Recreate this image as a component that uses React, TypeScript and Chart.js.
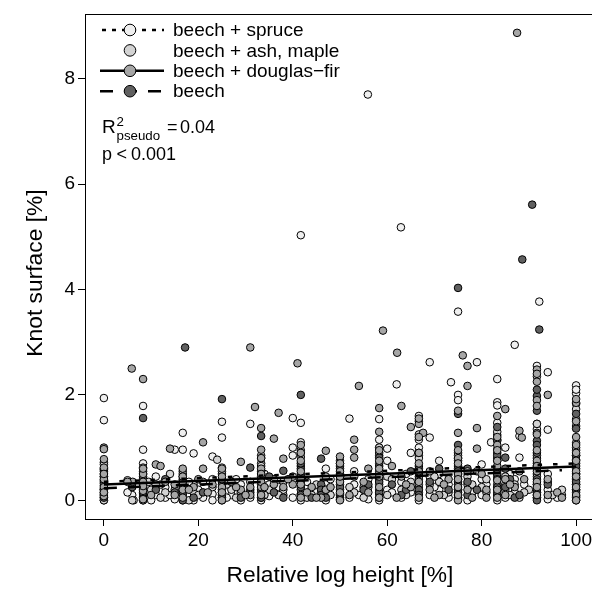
import { useEffect, useRef } from 'react';
import { Chart, registerables } from 'chart.js';

Chart.register(...registerables);

const FONT = "'Liberation Sans', Arial, Helvetica, sans-serif";

// ---- axis ticks / ranges ----
const xTicks = [0, 20, 40, 60, 80, 100];
const yTicks = [0, 2, 4, 6, 8];
const xRange = [-4, 104];
const yRange = [-0.355, 9.22];

// ---- legend ----
const groupLabels = ['beech + spruce', 'beech + ash, maple', 'beech + douglas\u2212fir', 'beech'];
const groupFill = ['#efefef', '#d3d3d3', '#a6a6a6', '#606060'];

// ---- fitted lines (x range, y at ends) ----
const spruceFitX = [0, 100];
const spruceFitY = [0.35, 0.7];
const douglasFitX = [0, 100];
const douglasFitY = [0.3, 0.64];
const beechFitX = [0, 97];
const beechFitY = [0.23, 0.57];

// ---- points [relative log height %, knot surface %] ----
const sprucePts: number[][] = [
  [0, 1.94], [0, 1.52], [0, 0.72], [0, 0.6], [0, 0.45], [0, 0.28], [0, 0.15], [0, 0.05], [0, 0.0],
  [8.3, 1.79], [8.3, 0.96], [8.3, 0.55], [8.3, 0.2], [8.3, 0.08], [8.3, 0.0], [6, 0.1], [6.3, 0.0],
  [11, 0.45], [11, 0.1], [13, 0.25], [13, 0.05], [15, 0.96], [15, 0.02], [16.7, 1.28], [16.7, 0.96], [16.7, 0.15],
  [19, 0.89], [19, 0.3], [19, 0.0], [21, 0.05], [23, 0.83], [23, 0.4], [23, 0.12], [23, 0.0],
  [25, 1.49], [25, 1.19], [25, 0.5], [25, 0.2], [25, 0.05], [27, 0.25], [27, 0.1], [29, 0.3], [29, 0.0],
  [31, 1.45], [31, 0.35], [31, 0.05],
  [33.3, 0.7], [33.3, 0.4], [33.3, 0.15], [33.3, 0.0], [35, 0.3], [35, 0.08], [38, 0.35], [38, 0.1],
  [40, 1.56], [40, 1.0], [40, 0.85], [40, 0.05], [41.7, 5.03], [41.7, 1.47], [41.7, 0.82], [41.7, 0.5],
  [41.7, 0.3], [41.7, 0.12], [41.7, 0.0], [44, 0.2],
  [47, 0.6], [47, 0.3], [47, 0.1], [47, 0.0], [50, 0.45], [50, 0.2], [50, 0.05], [52, 1.55], [53, 0.55],
  [53, 0.3], [54, 0.1], [55.9, 7.7], [56, 0.4], [56, 0.02],
  [58.3, 1.54], [58.3, 1.15], [58.3, 0.7], [58.3, 0.5], [58.3, 0.3], [58.3, 0.12], [58.3, 0.0],
  [60, 0.98], [60, 0.75], [60, 0.2], [62, 2.2], [62.9, 5.18], [63, 0.35], [63, 0.05], [65, 0.9], [65, 0.15],
  [66.7, 1.6], [66.7, 1.0], [66.7, 0.6], [66.7, 0.25], [66.7, 0.0],
  [69, 2.62], [69, 1.19], [69, 0.45], [69, 0.1], [71, 0.75], [71, 0.5], [71, 0.2], [73, 0.3], [73, 0.05],
  [73.5, 2.24], [75, 3.58], [75, 2.0], [75, 1.9], [75, 0.9], [75, 0.6], [75, 0.35], [75, 0.1], [77, 0.3], [77, 0.0],
  [79, 2.62], [80, 0.68], [80, 0.4], [80, 0.1], [82, 1.1],
  [83.3, 2.3], [83.3, 1.86], [83.3, 1.8], [83.3, 1.47], [83.3, 1.24], [83.3, 0.75], [83.3, 0.45], [83.3, 0.2], [83.3, 0.0],
  [85, 1.0], [85, 0.3], [85, 0.05], [87, 2.95], [87, 0.4], [87, 0.15], [88, 1.22], [88, 0.81],
  [91.7, 2.55], [91.7, 1.35], [91.7, 0.65], [91.7, 0.3], [91.7, 0.05], [92.2, 3.77],
  [94, 2.43], [94, 1.34], [94, 0.5], [94, 0.2], [94, 0.02], [96, 0.05],
  [100, 2.18], [100, 2.03], [100, 1.41], [100, 0.95], [100, 0.7], [100, 0.5], [100, 0.3], [100, 0.15], [100, 0.0],
  [0, 0.38], [0, 0.22], [8.3, 0.38], [8.3, 0.7], [16.7, 0.3], [16.7, 0.55], [25, 0.38], [25, 0.62],
  [33.3, 0.85], [33.3, 0.25], [41.7, 0.95], [41.7, 1.1], [41.7, 0.4], [50, 0.6], [50, 0.75],
  [58.3, 0.85], [58.3, 1.0], [58.3, 0.4], [66.7, 1.5], [66.7, 1.15], [66.7, 0.85], [66.7, 0.4],
  [75, 0.8], [75, 0.5], [75, 0.2], [83.3, 1.15], [83.3, 0.97], [83.3, 0.55], [83.3, 0.1],
  [91.7, 2.35], [91.7, 1.45], [91.7, 0.85], [91.7, 0.5], [91.7, 0.15],
  [100, 2.1], [100, 1.83], [100, 1.54], [100, 1.09], [100, 0.77], [100, 0.42], [100, 0.08],
  [97, 0.1], [89, 0.3], [86, 0.5], [81, 0.3], [78, 0.15], [72, 0.4], [70, 0.25], [64, 0.5], [61, 0.15],
  [55, 0.25], [52, 0.05], [48, 0.4], [45, 0.15], [43, 0.35], [37, 0.25], [34, 0.5], [28, 0.4], [26, 0.05],
  [20, 0.2], [18, 0.35], [14, 0.1], [12, 0.3], [10, 0.0], [5, 0.15],
];

const ashPts: number[][] = [
  [0, 0.68], [0, 0.5], [0, 0.35], [0, 0.2], [0, 0.1],
  [8.3, 0.62], [8.3, 0.42], [8.3, 0.3], [8.3, 0.12], [5, 0.38], [9.5, 0.35], [11, 0.3], [13, 0.15], [14, 0.5],
  [15, 0.2], [16.7, 0.5], [16.7, 0.25], [19, 0.15], [21, 0.35], [23, 0.25], [24, 0.77], [25, 0.35], [25, 0.1],
  [27, 0.2], [29, 0.15], [31, 0.2],
  [33.3, 0.55], [33.3, 0.3], [33.3, 0.05], [35, 0.2], [36, 0.4], [38, 0.2], [40, 0.45], [41.7, 0.65], [41.7, 0.2],
  [44, 0.1], [46, 0.15], [47, 0.45], [50, 0.3], [50, 0.1], [53, 0.45], [53, 0.15], [56, 0.25],
  [58.3, 0.9], [58.3, 0.4], [58.3, 0.2], [60, 0.45], [60, 0.1], [63, 0.2], [65, 0.35],
  [66.7, 0.8], [66.7, 0.45], [66.7, 0.15],
  [69, 0.3], [71, 0.35], [73, 0.15], [75, 0.75], [75, 0.45], [75, 0.2], [77, 0.45], [79, 0.55], [80, 0.25], [81, 0.15],
  [83.3, 0.9], [83.3, 0.6], [83.3, 0.3], [83.3, 0.1], [85, 0.45], [85, 0.2], [87, 0.3], [88, 0.05], [90, 0.2],
  [91.7, 0.8], [91.7, 0.45], [91.7, 0.15], [94, 0.35], [95, 0.1],
  [100, 0.85], [100, 0.6], [100, 0.4], [100, 0.2], [100, 0.05],
  [0, 0.58], [0, 0.0], [8.3, 0.5], [8.3, 0.0], [16.7, 0.0], [16.7, 0.45], [25, 0.55], [25, 0.0],
  [33.3, 0.65], [33.3, 0.8], [41.7, 0.9], [41.7, 0.35], [50, 0.5], [50, 0.7], [58.3, 0.55], [58.3, 1.0],
  [66.7, 1.25], [66.7, 0.55], [66.7, 0.3], [75, 0.85], [75, 0.3], [75, 0.05], [83.3, 1.3], [83.3, 0.8], [83.3, 0.4],
  [91.7, 1.45], [91.7, 0.3], [91.7, 0.05], [100, 1.73], [100, 1.0], [100, 0.3],
  [97, 0.2], [89, 0.15], [86, 0.1], [81, 0.4], [78, 0.3], [72, 0.1], [70, 0.45], [64, 0.1], [61, 0.4],
  [55, 0.05], [52, 0.25], [48, 0.1], [45, 0.3], [43, 0.05], [37, 0.1], [34, 0.1], [28, 0.05], [26, 0.3],
  [20, 0.1], [18, 0.0], [12, 0.05], [10, 0.2], [6, 0.0],
];

const douglasPts: number[][] = [
  [0, 1.0], [0, 0.97], [0, 0.78], [0, 0.62], [0, 0.4], [0, 0.25], [0, 0.08],
  [5.9, 2.5], [8.3, 2.3], [8.3, 0.5], [8.3, 0.35], [8.3, 0.18], [6.1, 0.35], [11, 0.68], [12, 0.65], [14, 0.98],
  [15, 0.3], [15, 0.1], [16.7, 0.6], [16.7, 0.35], [16.7, 0.05], [19, 0.25], [21, 1.1], [21, 0.6], [23, 0.3],
  [25, 0.45], [25, 0.25], [25, 0.0], [27, 0.35], [29, 0.73], [29, 0.2], [31, 2.9], [32, 1.77], [31, 0.25], [31, 0.1],
  [33.3, 1.37], [33.3, 0.96], [33.3, 0.6], [33.3, 0.45], [33.3, 0.25], [33.3, 0.1], [36, 1.17], [37, 1.66],
  [38, 0.79], [38, 0.25], [40, 0.3], [41, 2.6], [41.7, 0.75], [41.7, 0.4], [41.7, 0.05], [44, 0.25], [46, 0.05],
  [47, 0.94], [47, 0.2], [50, 0.83], [50, 0.55], [50, 0.35], [50, 0.0], [53, 1.15], [53, 0.96], [53, 0.81],
  [54, 2.17], [56, 0.6], [56, 0.15],
  [58.3, 1.75], [58.3, 1.3], [58.3, 0.6], [58.3, 0.25], [58.3, 0.05], [59.1, 3.22], [61, 0.65], [62.1, 2.8],
  [63, 1.79], [63, 0.45], [65, 1.39], [65, 0.25], [66.7, 1.45], [67.6, 1.28], [66.7, 0.7], [66.7, 0.35], [66.7, 0.05],
  [69, 0.55], [69, 0.2], [71, 0.1], [73, 0.4], [75, 1.7], [75, 1.28], [75, 0.8], [75, 0.5], [75, 0.25], [75, 0.0],
  [76, 2.75], [77, 2.55], [77, 2.17], [77, 0.55], [77, 0.2], [79, 1.37], [79, 0.98], [80, 0.5], [81, 0.05],
  [83.3, 1.6], [83.3, 1.05], [83.3, 0.65], [83.3, 0.38], [83.3, 0.05], [85, 1.73], [85, 0.4], [85, 0.1],
  [87.5, 8.87], [87, 0.25], [88, 1.32], [88.5, 1.19], [88, 0.55],
  [91.7, 2.48], [91.7, 2.25], [91.7, 1.9], [91.7, 1.79], [91.7, 1.28], [91.7, 0.75], [91.7, 0.55], [91.7, 0.35], [91.7, 0.1],
  [94, 2.0], [94, 0.4], [94, 0.1], [96, 0.15],
  [100, 1.85], [100, 1.2], [100, 0.75], [100, 0.55], [100, 0.25], [100, 0.1],
  [0, 0.5], [0, 0.15], [8.3, 0.6], [8.3, 0.27], [8.3, 0.02], [16.7, 0.2], [16.7, 0.45], [25, 0.6], [25, 0.15],
  [33.3, 0.8], [33.3, 0.35], [33.3, 0.5], [41.7, 0.9], [41.7, 0.3], [41.7, 0.55], [41.7, 1.05],
  [50, 0.45], [50, 0.7], [50, 0.15], [58.3, 0.95], [58.3, 0.75], [58.3, 0.45],
  [66.7, 1.55], [66.7, 1.2], [66.7, 0.9], [66.7, 0.55], [75, 0.95], [75, 0.7], [75, 0.4], [75, 0.1],
  [83.3, 1.2], [83.3, 0.95], [83.3, 0.75], [83.3, 0.2], [91.7, 2.4], [91.7, 1.25], [91.7, 0.95], [91.7, 0.65], [91.7, 0.25],
  [100, 1.92], [100, 1.5], [100, 1.05], [100, 0.9], [100, 0.45], [100, 0.0],
  [97, 0.05], [89, 0.4], [86, 0.3], [81, 0.2], [78, 0.05], [72, 0.3], [70, 0.05], [64, 0.3], [62, 0.05],
  [55, 0.35], [52, 0.1], [48, 0.25], [45, 0.05], [43, 0.15], [39, 0.4], [36, 0.3], [34, 0.25], [30, 0.1],
  [28, 0.25], [22, 0.15], [20, 0.4], [18, 0.2], [13, 0.35], [10, 0.1], [5, 0.35],
];

const beechPts: number[][] = [
  [0, 0.55], [0, 0.32], [0, 0.12], [8.3, 1.56], [8.3, 0.25], [8.3, 0.05], [13, 0.4], [15, 0.15], [17.2, 2.9],
  [16.7, 0.4], [16.7, 0.1], [19, 0.05], [25, 1.92], [25, 0.3], [25, 0.15], [31, 0.62], [31, 0.15],
  [33.3, 1.22], [33.3, 0.35], [33.3, 0.2], [35, 0.45], [38, 0.56], [38, 0.05], [41.7, 2.0], [41.7, 0.6], [41.7, 0.25],
  [46, 0.79], [46, 0.3], [46, 0.2], [46, 0.1], [47, 0.05], [50, 0.65], [50, 0.25], [50, 0.02], [56, 0.3],
  [58.3, 0.81], [58.3, 0.35], [58.3, 0.15], [61, 0.3], [63, 0.1], [65, 0.55], [66.7, 0.9], [66.7, 0.5], [66.7, 0.2],
  [71, 0.6], [73, 0.2], [75, 4.03], [75, 1.64], [75, 1.05], [75, 0.65], [75, 0.4], [75, 0.15],
  [77, 0.6], [77, 0.35], [77, 0.1], [83.3, 1.39], [83.3, 1.13], [83.3, 0.5], [83.3, 0.25],
  [85, 0.81], [85, 0.6], [85, 0.25], [88.6, 4.57], [90.7, 5.61], [87, 0.05],
  [91.7, 1.98], [91.7, 1.7], [91.7, 1.13], [91.7, 0.9], [91.7, 0.6], [91.7, 0.4], [91.7, 0.2], [91.7, 0.0], [92.2, 3.24],
  [94, 0.3], [100, 1.64], [100, 0.85], [100, 0.65], [100, 0.35],
  [0, 0.45], [0, 0.2], [0, 0.05], [8.3, 0.45], [8.3, 0.15], [16.7, 0.3], [16.7, 0.0], [25, 0.4], [25, 0.05],
  [33.3, 0.5], [33.3, 0.05], [41.7, 0.45], [41.7, 0.1], [41.7, 0.7], [50, 0.4], [50, 0.12], [58.3, 0.65], [58.3, 0.05],
  [66.7, 0.65], [66.7, 0.1], [75, 0.55], [75, 0.3], [75, 0.05], [83.3, 0.85], [83.3, 0.4], [83.3, 0.15],
  [91.7, 2.1], [91.7, 1.05], [91.7, 0.7], [91.7, 0.1], [100, 1.36], [100, 0.5], [100, 0.2],
  [86, 0.4], [88, 0.1], [79, 0.2], [69, 0.35], [64, 0.2], [55, 0.2], [47, 0.2], [44, 0.05], [36, 0.15],
  [29, 0.05], [21, 0.15], [11, 0.2], [6, 0.25],
];

const toXY = (pts: number[][]) => pts.map(([x, y]) => ({ x, y }));
const fitXY = (xs: number[], ys: number[]) => xs.map((x, i) => ({ x, y: ys[i] }));

const annotationPlugin = {
  id: 'rDecor',
  afterDraw(chart: any) {
    const ctx: CanvasRenderingContext2D = chart.ctx;
    const a = chart.chartArea;
    ctx.save();
    // frame
    ctx.setLineDash([]);
    ctx.strokeStyle = '#000';
    ctx.lineWidth = 1;
    ctx.strokeRect(Math.round(a.left) + 0.5, Math.round(a.top) + 0.5, Math.round(a.right - a.left), Math.round(a.bottom - a.top));

    // legend
    const dashes: (number[] | null)[] = [[4, 6], null, [], [13, 11]];
    ctx.font = `19px ${FONT}`;
    ctx.textBaseline = 'middle';
    ctx.textAlign = 'left';
    groupLabels.forEach((lab, i) => {
      const y = 30 + i * 20.4;
      const d = dashes[i];
      if (d) {
        ctx.beginPath();
        ctx.setLineDash(d);
        ctx.lineWidth = 2.5;
        ctx.strokeStyle = '#000';
        ctx.moveTo(i === 0 ? 102 : 100, y);
        ctx.lineTo(164, y);
        ctx.stroke();
      }
      ctx.setLineDash([]);
      ctx.beginPath();
      ctx.arc(130, y, 5.8, 0, Math.PI * 2);
      ctx.fillStyle = groupFill[i];
      ctx.fill();
      ctx.lineWidth = 1;
      ctx.strokeStyle = '#000';
      ctx.stroke();
      ctx.fillStyle = '#000';
      ctx.fillText(lab, 173, y + 1);
    });

    // statistics
    ctx.textBaseline = 'alphabetic';
    ctx.fillStyle = '#000';
    ctx.font = `19px ${FONT}`;
    ctx.fillText('R', 102, 133);
    ctx.font = `13.3px ${FONT}`;
    ctx.fillText('2', 116.5, 126);
    ctx.fillText('pseudo', 116.5, 140);
    ctx.font = `18px ${FONT}`;
    ctx.fillText('=', 167, 133);
    ctx.fillText('0.04', 180, 133);
    ctx.fillText('p', 102, 160);
    ctx.fillText('<', 116.5, 160);
    ctx.fillText('0.001', 131, 160);
    ctx.restore();
  },
};

export default function App() {
  const ref = useRef<HTMLCanvasElement>(null);
  useEffect(() => {
    const pointDs = (label: string, pts: number[][], fill: string, order: number) => ({
      type: 'scatter' as const,
      label,
      data: toXY(pts),
      backgroundColor: fill,
      borderColor: '#000',
      borderWidth: 1,
      pointRadius: 3.8,
      order,
    });
    const lineDs = (label: string, data: any[], dash: number[]) => ({
      type: 'line' as const,
      label,
      data,
      borderColor: '#000',
      borderWidth: 2.5,
      borderDash: dash,
      pointRadius: 0,
      fill: false,
      tension: 0,
      order: 0,
    });
    const chart = new Chart(ref.current!, {
      type: 'scatter',
      data: {
        datasets: [
          lineDs('fit spruce', fitXY(spruceFitX, spruceFitY), [4.5, 11]),
          lineDs('fit douglas', fitXY(douglasFitX, douglasFitY), []),
          lineDs('fit beech', fitXY(beechFitX, beechFitY), [13, 11]),
          pointDs(groupLabels[0], sprucePts, groupFill[0], 4),
          pointDs(groupLabels[1], ashPts, groupFill[1], 3),
          pointDs(groupLabels[2], douglasPts, groupFill[2], 1),
          pointDs(groupLabels[3], beechPts, groupFill[3], 2),
        ] as any,
      },
      options: {
        responsive: false,
        animation: false,
        devicePixelRatio: 1,
        events: [],
        layout: { padding: { top: 9, right: 5, left: 0, bottom: 0 } },
        plugins: { legend: { display: false }, tooltip: { enabled: false } },
        scales: {
          x: {
            type: 'linear',
            min: xRange[0],
            max: xRange[1],
            afterBuildTicks: (s: any) => { s.ticks = xTicks.map((v) => ({ value: v })); },
            afterFit: (s: any) => { s.height = 71; },
            ticks: { color: '#000', font: { size: 19, family: FONT }, padding: 3, maxRotation: 0, autoSkip: false },
            grid: { display: true, drawOnChartArea: false, drawTicks: true, tickLength: 7, color: '#000', lineWidth: 1 },
            border: { display: false },
            title: { display: true, text: 'Relative log height [%]', color: '#000', font: { size: 22.8, family: FONT }, padding: { top: 0, bottom: 1 } },
          },
          y: {
            type: 'linear',
            min: yRange[0],
            max: yRange[1],
            afterBuildTicks: (s: any) => { s.ticks = yTicks.map((v) => ({ value: v })); },
            afterFit: (s: any) => { s.width = 85; },
            ticks: { color: '#000', font: { size: 19, family: FONT }, padding: 3 },
            grid: { display: true, drawOnChartArea: false, drawTicks: true, tickLength: 7, color: '#000', lineWidth: 1 },
            border: { display: false },
            title: { display: true, text: 'Knot surface [%]\u00a0\u00a0', color: '#000', font: { size: 22.8, family: FONT }, padding: { top: 22, bottom: 0 } },
          },
        },
      },
      plugins: [annotationPlugin],
    });
    return () => chart.destroy();
  }, []);
  return (
    <div style={{ position: 'absolute', left: 0, top: 0, width: 592, height: 590, overflow: 'hidden', background: '#fff' }}>
      <canvas ref={ref} width={600} height={590} style={{ display: 'block', width: 600, height: 590 }} />
    </div>
  );
}
